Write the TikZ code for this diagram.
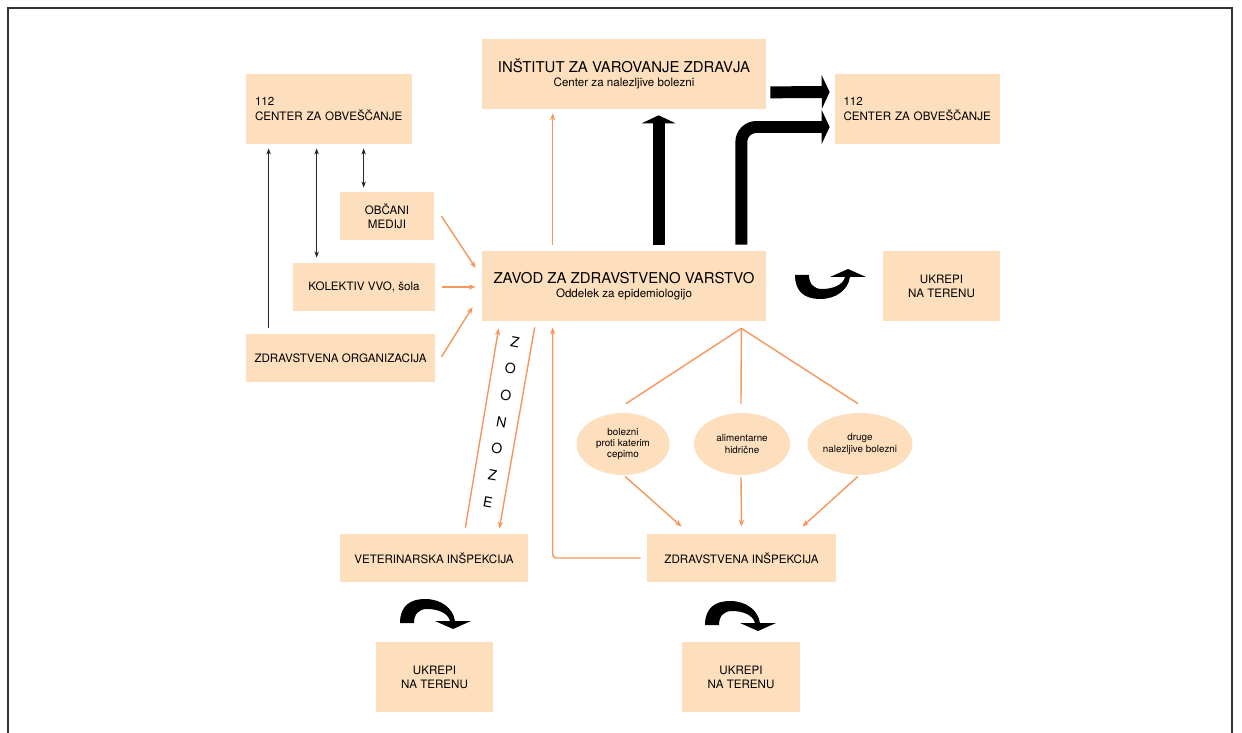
\documentclass[tikz,border=0pt]{standalone}
\usepackage{fontspec}
\setmainfont{TeX Gyre Heros}
\usetikzlibrary{arrows.meta,shapes.geometric}

\definecolor{peach}{RGB}{253,223,190}
\definecolor{lineorange}{RGB}{247,150,90}

\tikzset{
  box/.style={fill=peach, inner sep=0pt, align=center,
    font=\fontsize{6.6}{8}\selectfont},
  sz/.style 2 args={minimum width={#1*0.02cm}, minimum height={#2*0.02cm}},
  disease/.style={ellipse, fill=peach, inner sep=0pt, align=center,
    font=\fontsize{5.6}{6.5}\selectfont},
  orangeline/.style={draw=lineorange, line width=0.8pt},
  orangearr/.style={orangeline, -{Stealth[length=4pt,width=3pt]}},
  thinarr/.style={draw=black!85, line width=0.5pt, -{Stealth[length=3.5pt,width=2.5pt]}},
  thinboth/.style={draw=black!85, line width=0.5pt,
    {Stealth[length=3.5pt,width=2.5pt]}-{Stealth[length=3.5pt,width=2.5pt]}},
  bigarr/.style={draw=black, line width=6.8pt, -{Triangle[width=19pt,length=4.5pt]}},
  ukrepArc/.pic={
    \fill (0,0) .. controls (0,-17) and (10,-24) .. (25,-24)
      .. controls (41,-24) and (53,-15) .. (55,-2)
      -- (50,-2) .. controls (48,-10) and (38,-14) .. (27,-14)
      .. controls (19,-14) and (14,-9) .. (14,0) -- cycle;
    \fill (35,-2) -- (71,-2) -- (53,6) -- cycle;
  }
}

\newcommand{\bigline}[1]{{\fontsize{8.5}{8}\selectfont #1}}

\begin{document}
\begin{tikzpicture}[x=0.02cm, y=-0.02cm]
\useasboundingbox (0,0) rectangle (1242,733);
\draw [black!80, line width=0.6pt] (8,740) -- (8,8) -- (1232,8) -- (1232,740);

% boxes
\node [box, sz={166}{70}, text width=2.96cm, align=left, font=\fontsize{6.6}{8.5}\selectfont]
  (ctrL) at (329,109) {112\\CENTER ZA OBVEŠČANJE};
\node [box, sz={165}{70}, text width=2.96cm, align=left, font=\fontsize{6.6}{8.5}\selectfont]
  (ctrR) at (917.5,109) {112\\\mbox{CENTER ZA OBVEŠČANJE}};
\node [box, sz={284}{70}] (ivz) at (624,74)
  {\bigline{INŠTITUT ZA VAROVANJE ZDRAVJA}\\Center za nalezljive bolezni};
\node [box, sz={284}{70}] (zzv) at (624,286)
  {\bigline{ZAVOD ZA ZDRAVSTVENO VARSTVO}\\Oddelek za epidemiologijo};
\node [box, sz={117}{70}] (ukrepR) at (941.5,286) {UKREPI\\NA TERENU};
\node [box, sz={94}{48}, font=\fontsize{6.6}{7.8}\selectfont] (obcani) at (387,216) {OBČANI\\MEDIJI};
\node [box, sz={142}{48}] (kolektiv) at (364,287) {KOLEKTIV VVO, šola};
\node [box, sz={189}{48}] (zdrOrg) at (340.5,358) {ZDRAVSTVENA ORGANIZACIJA};
\node [box, sz={188}{48}] (vetInsp) at (434,558) {VETERINARSKA INŠPEKCIJA};
\node [box, sz={189}{48}] (zdrInsp) at (741.5,558) {ZDRAVSTVENA INŠPEKCIJA};
\node [box, sz={117}{70}] (ukrepBL) at (434.5,677) {UKREPI\\NA TERENU};
\node [box, sz={118}{70}] (ukrepBR) at (741,677) {UKREPI\\NA TERENU};

\node [disease, sz={93}{62}] (e1) at (623,444) {bolezni\\proti katerim\\cepimo};
\node [disease, sz={96}{62}] (e2) at (742,444) {alimentarne\\hidrične};
\node [disease, sz={94}{62}] (e3) at (860,444) {druge\\nalezljive bolezni};

%%%%%%%%%%%%%%%%%%%%%%%%%%%%%%%%%%%%%%%%

\draw [thinarr] ([shift={(23,-6)}]zdrOrg.north west) -- ([shift={(23,4)}]ctrL.south west);
\draw [thinboth] ([shift={(24,-5)}]kolektiv.north west) -- ([shift={(71,4)}]ctrL.south west);
\draw [thinboth] ([shift={(24,-4)}]obcani.north west) -- ([shift={(118,4)}]ctrL.south west);

\draw [orangearr] ([shift={(7,0)}]obcani.east) -- ([shift={(-6,-18)}]zzv.west);
\draw [orangearr] ([shift={(7,0)}]kolektiv.east) -- ([shift={(-6,1)}]zzv.west);
\draw [orangearr] ([shift={(6,-1)}]zdrOrg.east) -- ([shift={(-9,21)}]zzv.west);
\draw [orangearr] ([shift={(71,-6)}]zzv.north west) -- ([shift={(71,4)}]ivz.south west);

% zoonoze
\draw [orangearr] ([shift={(-63,-6)}]vetInsp.north east) -- ([shift={(17,7)}]zzv.south west);
\draw [orangearr] ([shift={(53,6)}]zzv.south west) -- ([shift={(-29,-5)}]vetInsp.north east);
\foreach \ch [count=\i] in {Z,O,O,N,O,Z,E}
  \node [rotate=-10, font=\fontsize{8}{8}\selectfont] (zoo\i) at ({515-4.5*(\i-1)}, {342+26.7*(\i-1)}) {\ch};

\draw [orangearr, rounded corners=2pt] ([shift={(-6,0)}]zdrInsp.west) -| ([shift={(71,6)}]zzv.south west);

% fan to diseases
\coordinate (fan) at ([shift={(-25,7)}]zzv.south east);
\draw [orangeline] (fan) -- ([shift={(3,-9)}]e1.north);
\draw [orangeline] (fan) -- ([shift={(-1,-9)}]e2.north);
\draw [orangeline] (fan) -- ([shift={(-2,-9)}]e3.north);
\draw [orangearr] ([shift={(2,1)}]e1.south) -- ([shift={(35,-7)}]zdrInsp.north west);
\draw [orangearr] ([shift={(-1,2)}]e2.south) -- ([shift={(0,-7)}]zdrInsp.north);
\draw [orangearr] ([shift={(-2,1)}]e3.south) -- ([shift={(-34,-7)}]zdrInsp.north east);

% thick arrows
\draw [bigarr] ([shift={(177,-6)}]zzv.north west) -- ([shift={(177,6)}]ivz.south west);
\draw [bigarr] ([shift={(4,-17)}]ivz.south east) -- ([shift={(-5,-17)}]ctrR.west);
\draw [bigarr, rounded corners=0.3cm] ([shift={(-25,-6)}]zzv.north east) |- ([shift={(-5,18)}]ctrR.west);

% measures in the field
\pic at (400,623) {ukrepArc};
\pic at (705,625) {ukrepArc};
\pic [yscale=-1] at (795,275) {ukrepArc};

\end{tikzpicture}
\end{document}
